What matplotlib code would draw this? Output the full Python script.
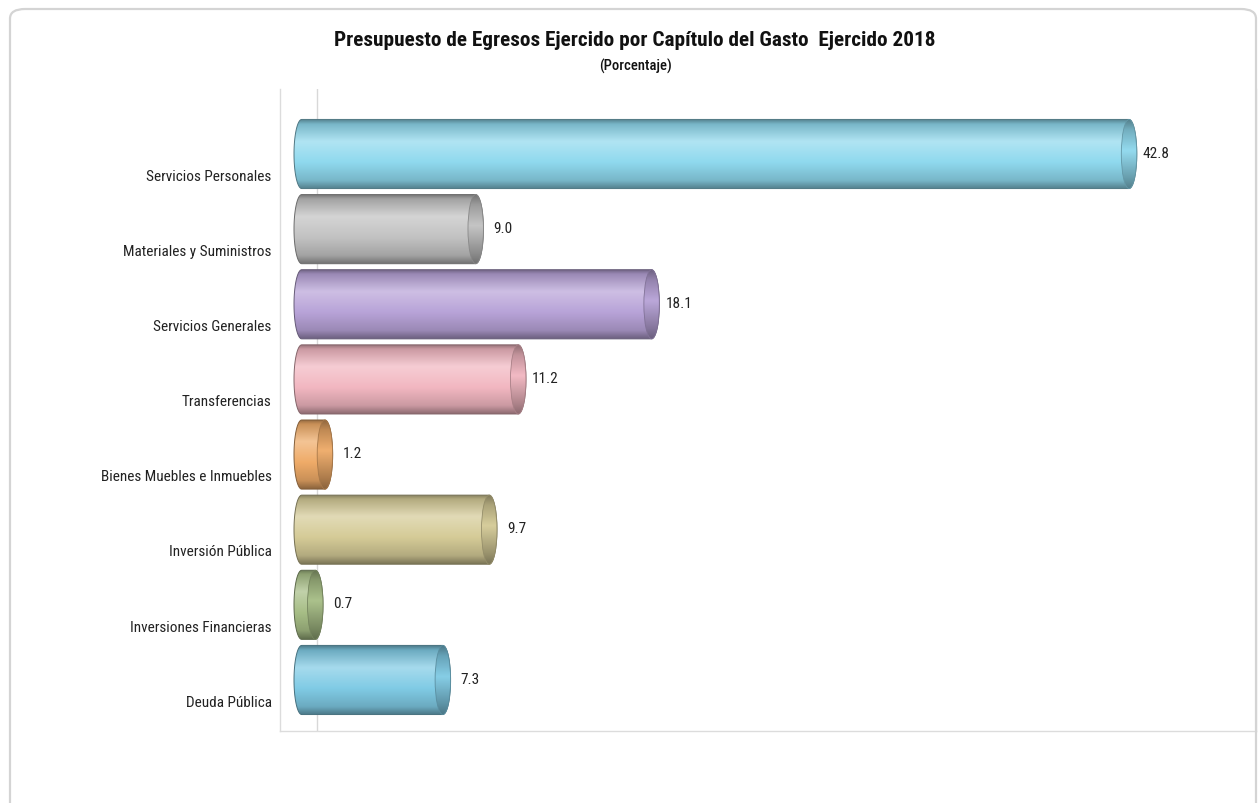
import numpy as np
import matplotlib
matplotlib.use('Agg')
import matplotlib.pyplot as plt
from matplotlib.colors import LinearSegmentedColormap, to_rgb
from matplotlib.patches import Polygon, Ellipse, FancyBboxPatch

# data
categories = ['Servicios Personales', 'Materiales y Suministros', 'Servicios Generales',
              'Transferencias', 'Bienes Muebles e Inmuebles', 'Inversión Pública',
              'Inversiones Financieras', 'Deuda Pública']
values = [42.8, 9.0, 18.1, 11.2, 1.2, 9.7, 0.7, 7.3]
colors = ['#8fd9ee', '#c2c2c2', '#b8a3d8', '#f2b7c1', '#efab68', '#d5cb97', '#a7be86', '#80cbe5']
title = 'Presupuesto de Egresos Ejercido por Capítulo del Gasto  Ejercido 2018'
subtitle = '(Porcentaje)'

narrow = ['Roboto Condensed', 'DejaVu Sans']

W, H = 1259, 804
fig = plt.figure(figsize=(W / 100, H / 100), dpi=100)
fig.patch.set_facecolor('white')

def fx(px):
    return px / W

def fy(py):
    return 1 - py / H

# outer frame
frame = FancyBboxPatch((fx(10), fy(815)), fx(1256) - fx(10), (815 - 10) / H,
                       boxstyle='round,pad=0,rounding_size=0.012',
                       transform=fig.transFigure, facecolor='none',
                       edgecolor='#d4d4d4', linewidth=1.6)
fig.patches.append(frame)

ax = fig.add_axes([fx(280), fy(732), fx(1256) - fx(280), (732 - 90) / H])

scale = 19.33          # px per unit
r = 0.4                # half width of the end ellipses (data units)
h = 0.92               # bar thickness
x0px = 294 + r * scale
c0, step = 155, 75.14


def shade(c, k):
    c = np.array(to_rgb(c))
    if k < 0:
        return tuple(c * (1 + k))
    return tuple(c + (1 - c) * k)


def cylinder(ax, y, v, color):
    dark = shade(color, -0.42)
    mid = shade(color, -0.16)
    light = shade(color, 0.3)
    cm = LinearSegmentedColormap.from_list('c', [(0, dark), (0.07, mid), (0.32, light),
                                                 (0.62, color), (0.88, mid), (1, dark)])
    t1 = np.linspace(np.pi / 2, 3 * np.pi / 2, 40)
    t2 = np.linspace(-np.pi / 2, np.pi / 2, 40)
    xs = np.concatenate([r * np.cos(t1), v + r * np.cos(t2)])
    ys = np.concatenate([y + h / 2 * np.sin(t1), y + h / 2 * np.sin(t2)])
    poly = Polygon(np.column_stack([xs, ys]), closed=True, facecolor='none',
                   edgecolor=shade(color, -0.45), linewidth=0.7, zorder=3)
    ax.add_patch(poly)
    grad = np.linspace(0, 1, 256).reshape(-1, 1)
    im = ax.imshow(grad, cmap=cm, extent=[-r, v + r, y - h / 2, y + h / 2],
                   origin='lower', aspect='auto', zorder=2, interpolation='bicubic')
    im.set_clip_path(poly)
    # end cap
    cap_cm = LinearSegmentedColormap.from_list('cap', [(0, dark), (0.15, shade(color, -0.2)),
                                                       (0.45, shade(color, 0.05)),
                                                       (0.85, shade(color, -0.28)), (1, dark)])
    cap = Ellipse((v, y), 2 * r, h, facecolor='none', edgecolor=shade(color, -0.3),
                  linewidth=0.6, zorder=5)
    ax.add_patch(cap)
    im2 = ax.imshow(grad, cmap=cap_cm, extent=[v - r, v + r, y - h / 2, y + h / 2],
                    origin='lower', aspect='auto', zorder=4, interpolation='bicubic')
    im2.set_clip_path(cap)


ypos = np.arange(len(categories))
for i, (v, c) in enumerate(zip(values, colors)):
    cylinder(ax, ypos[i], v, c)
    ax.annotate(f'{v:.1f}', (v + r, ypos[i]), xytext=(14, 1), textcoords='offset points',
                ha='center', va='center', fontsize=11, family=narrow, color='#222222')

# back wall line
ax.axvline((317 - x0px) / scale, color='#d8d8d8', linewidth=1, zorder=1)

ax.set_xlim((280 - x0px) / scale, (1256 - x0px) / scale)
ax.set_ylim((732 - c0) / step, (90 - c0) / step)
ax.set_xticks([])
ax.set_yticks(ypos + 0.27)
ax.set_yticklabels(categories, family=narrow, fontsize=11, color='#222222')
ax.tick_params(axis='y', length=0, pad=6)
for s in ['top']:
    ax.spines[s].set_visible(False)
for s in ['left', 'bottom', 'right']:
    ax.spines[s].set_color('#dcdcdc')
    ax.spines[s].set_linewidth(1)

fig.text(fx(635), fy(40), title, ha='center', va='center', fontsize=15.3,
         fontweight='bold', family=narrow, color='#111111')
fig.text(fx(635), fy(66), subtitle, ha='center', va='center', fontsize=10.5,
         fontweight='medium', family=narrow, color='#111111')

fig.savefig('out.png', dpi=100, facecolor='white')
